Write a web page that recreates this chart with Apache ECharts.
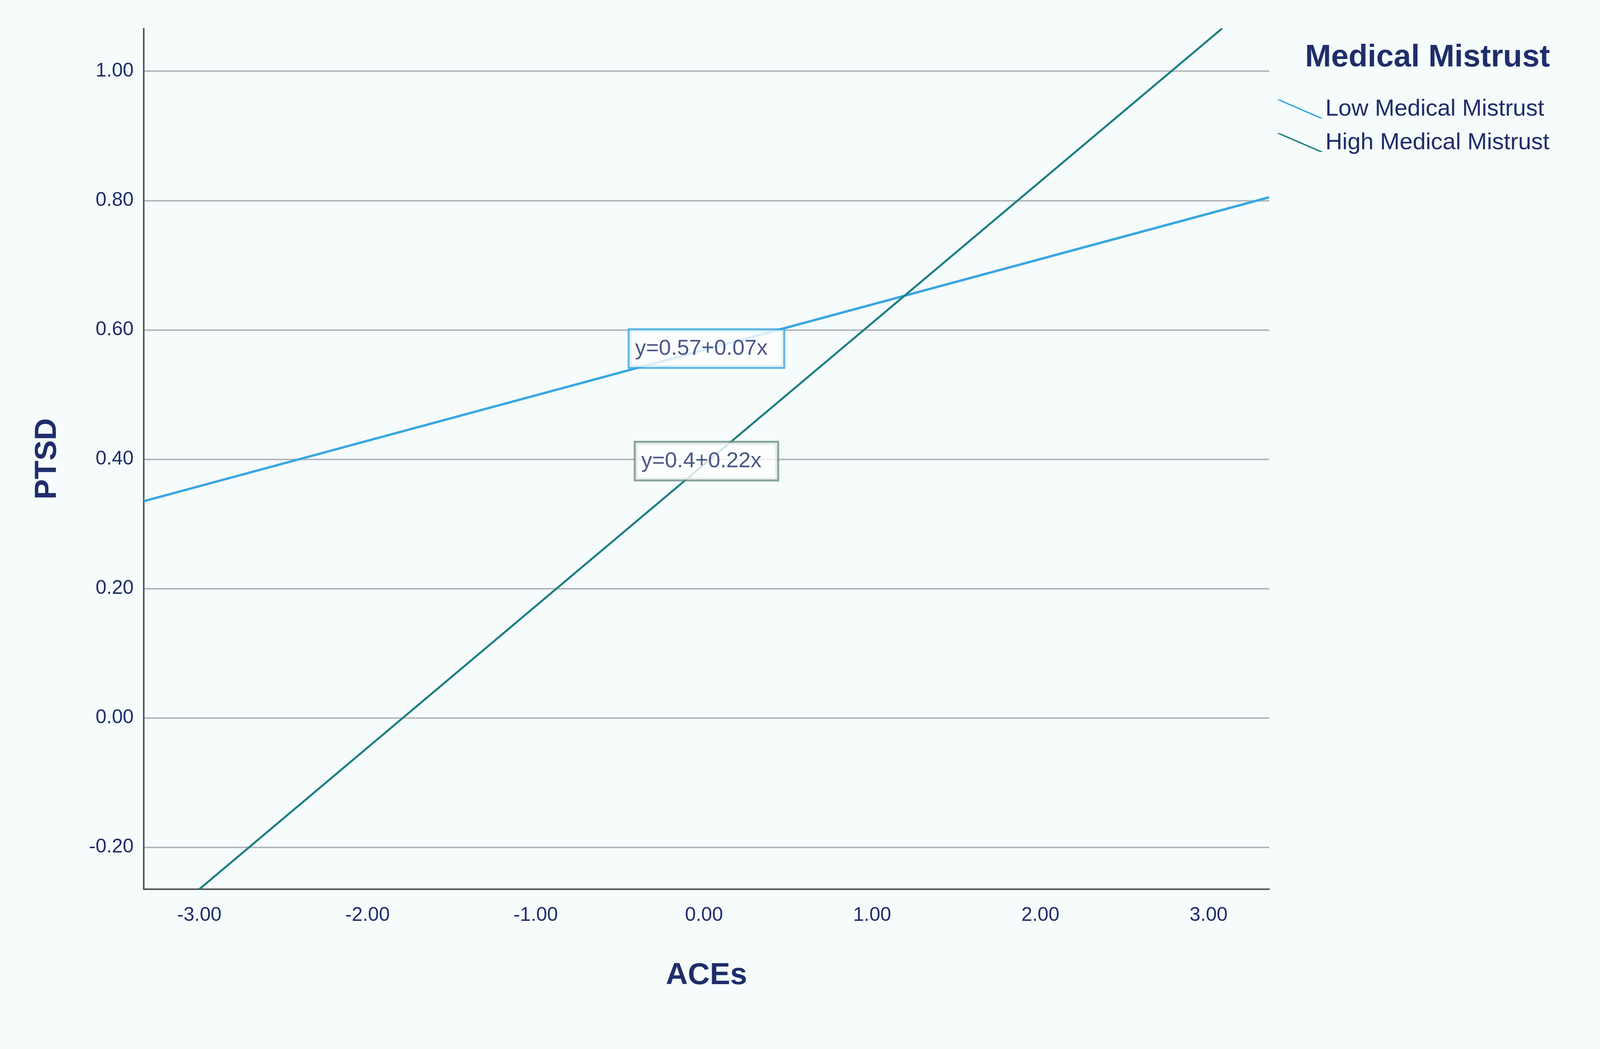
<!DOCTYPE html>
<html>
<head>
<meta charset="utf-8">
<title>PTSD by ACEs</title>
<script src="https://cdn.jsdelivr.net/npm/echarts@6/dist/echarts.min.js"></script>
<style>
  html, body { margin: 0; padding: 0; background: #ffffff; }
  #chart { width: 4244px; height: 2685px; }
</style>
</head>
<body>
<div id="chart"></div>
<script>
// values
var lowLine = [[-3.33, 0.335], [3.36, 0.805]];
var highLine = [[-3.0, -0.265], [3.08, 1.066]];
var labelPoints = [[0.015, 0.571, 'y=0.57+0.07x'], [0.015, 0.397, 'y=0.4+0.22x']];
var xTicks = [-3, -2, -1, 0, 1, 2, 3];
var yTicks = [-0.2, 0, 0.2, 0.4, 0.6, 0.8, 1.0];

var textColor = '#1f2d6b';
var lowColor = '#3aa6e0';
var highColor = '#1d7f80';
var font = 'Liberation Sans, Arial, sans-serif';

var chart = echarts.init(document.getElementById('chart'));
var option = {
  backgroundColor: '#f5fcfb',
  textStyle: { fontFamily: font },
  grid: { left: 368, right: 995, top: 73, bottom: 409 },
  legend: {
    left: 3263, top: 244, orient: 'vertical', itemGap: 26,
    itemWidth: 120, itemHeight: 60,
    icon: 'path://M0,0 L3,0 L40,16 L37,16 Z',
    textStyle: { fontSize: 60, color: textColor, fontFamily: font, padding: [0, 0, 0, 0] },
    data: ['Low Medical Mistrust', 'High Medical Mistrust']
  },
  graphic: [{
    type: 'text', left: 3341, top: 108,
    style: { text: 'Medical Mistrust', fontSize: 80, fontWeight: 'bold', fill: textColor, fontFamily: font }
  }],
  xAxis: {
    type: 'value', min: -3.33, max: 3.36,
    name: 'ACEs', nameLocation: 'middle', nameGap: 182,
    nameTextStyle: { fontSize: 78, fontWeight: 'bold', color: textColor },
    axisLine: { show: true, onZero: false, lineStyle: { color: '#555555', width: 4 } },
    axisTick: { show: false, customValues: xTicks },
    axisLabel: { customValues: xTicks, fontSize: 50, color: textColor, margin: 42,
      formatter: function (v) { return v.toFixed(2); } },
    splitLine: { show: false }
  },
  yAxis: {
    type: 'value', min: -0.265, max: 1.066,
    name: 'PTSD', nameLocation: 'middle', nameGap: 208,
    nameTextStyle: { fontSize: 78, fontWeight: 'bold', color: textColor },
    axisLine: { show: true, onZero: false, lineStyle: { color: '#555555', width: 4 } },
    axisTick: { show: false, customValues: yTicks },
    axisLabel: { customValues: yTicks, fontSize: 50, color: textColor, margin: 26,
      formatter: function (v) { return v.toFixed(2); } },
    splitLine: { show: true, lineStyle: { color: '#b4b8bc', width: 4 } }
  },
  series: [
    {
      name: 'Low Medical Mistrust', type: 'line', data: lowLine,
      symbol: 'none', color: lowColor, lineStyle: { width: 6, color: lowColor }, z: 3
    },
    {
      name: 'High Medical Mistrust', type: 'line', data: highLine,
      symbol: 'none', color: highColor, lineStyle: { width: 5, color: highColor }, z: 3
    },
    {
      type: 'scatter', symbolSize: 0, z: 5, silent: true,
      data: labelPoints.map(function (p, i) {
        return {
          value: [p[0], p[1]],
          label: {
            show: true, position: 'inside', formatter: p[2],
            fontSize: 56, color: textColor, backgroundColor: '#ffffff',
            borderColor: i === 0 ? lowColor : '#6b8f86', borderWidth: 5,
            padding: [20, 40, 18, 14]
          }
        };
      })
    }
  ]
};
chart.setOption(option);
</script>
</body>
</html>
